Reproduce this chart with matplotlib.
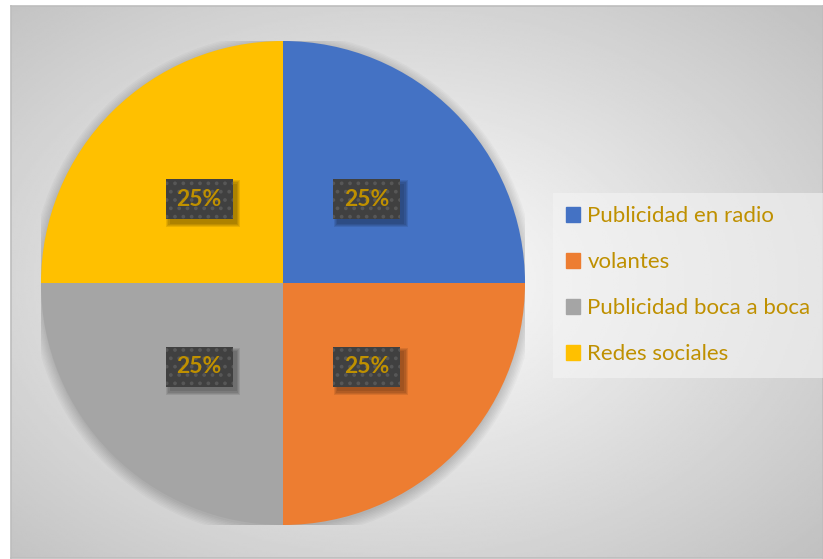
import matplotlib
matplotlib.use("Agg")
from matplotlib import pyplot as plt
import matplotlib.patches as mpatches
import matplotlib.transforms as mtransforms
import numpy as np

labels = ["Publicidad en radio", "volantes", "Publicidad boca a boca", "Redes sociales"]
values = [25, 25, 25, 25]
colors = ["#4472C4", "#ED7D31", "#A5A5A5", "#FFC000"]
gold = "#BF9000"

plt.rcParams["font.family"] = ["Lato", "DejaVu Sans"]
plt.rcParams["hatch.linewidth"] = 1.5

W, H = 823, 559
fig = plt.figure(figsize=(W / 100, H / 100), dpi=100)
fig.patch.set_facecolor("white")

# chart area with a radial gray gradient
bg = fig.add_axes([11 / W, 1 / H, 1 - 11 / W, 552 / H])
yy, xx = np.mgrid[-1:1:300j, -1:1:400j]
r = np.sqrt((xx + 0.05) ** 2 + yy ** 2) / np.sqrt(2)
shade = 1.0 - 0.24 * r
bg.imshow(shade, cmap="gray", vmin=0, vmax=1, extent=[0, 1, 0, 1], aspect="auto")
bg.set_xlim(0, 1)
bg.set_ylim(0, 1)
bg.set_xticks([])
bg.set_yticks([])
for s in bg.spines.values():
    s.set_color("#bdbdbd")
    s.set_linewidth(1.2)

ax = fig.add_axes([41 / W, (H - 525) / H, 484 / W, 484 / H])
ax.set_facecolor("none")

# soft shadow behind the pie
for k in range(8):
    ax.add_patch(mpatches.Circle((0.0, -0.01), 1.0 + 0.006 * k, color="black",
                                 alpha=0.025, lw=0, zorder=0))

wedges, texts, autotexts = ax.pie(values, colors=colors, startangle=90, counterclock=False,
                                  autopct="%1.0f%%", pctdistance=0.49,
                                  wedgeprops=dict(linewidth=0, zorder=1))

# dark label boxes (size in inches) with a soft drop shadow
bw, bh = 0.67, 0.40
for t in autotexts:
    x, y = t.get_position()
    trans = fig.dpi_scale_trans + mtransforms.ScaledTranslation(x, y, ax.transData)
    for k in range(4):
        g = 0.012 * k
        ax.add_patch(mpatches.Rectangle((-bw / 2 + 0.04 - g, -bh / 2 - 0.045 - g),
                                        bw + 2 * g, bh + 2 * g, transform=trans,
                                        fc="black", alpha=0.09, lw=0, zorder=3))
    ax.add_patch(mpatches.Rectangle((-bw / 2, -bh / 2), bw, bh, transform=trans,
                                    fc="#404040", ec="#575757", hatch="..", lw=0, zorder=4))
    t.set_color(gold)
    t.set_fontsize(16.5)
    t.set_fontweight("bold")
    t.set_zorder(5)
ax.set_xlim(-1, 1)
ax.set_ylim(-1, 1)
ax.axis("off")

handles = [mpatches.Patch(color=c, label=l) for c, l in zip(colors, labels)]
leg = fig.legend(handles=handles, loc="upper left",
                 bbox_to_anchor=(553 / W, 1 - 193 / H), borderaxespad=0,
                 frameon=True, fontsize=16, labelcolor=gold,
                 handlelength=0.6, handleheight=0.6, handletextpad=0.35,
                 labelspacing=1.17, borderpad=0.6, fancybox=False)
leg.get_frame().set_facecolor("#f4f4f4")
leg.get_frame().set_alpha(0.6)
leg.get_frame().set_linewidth(0)

fig.savefig("out.png", dpi=100)
